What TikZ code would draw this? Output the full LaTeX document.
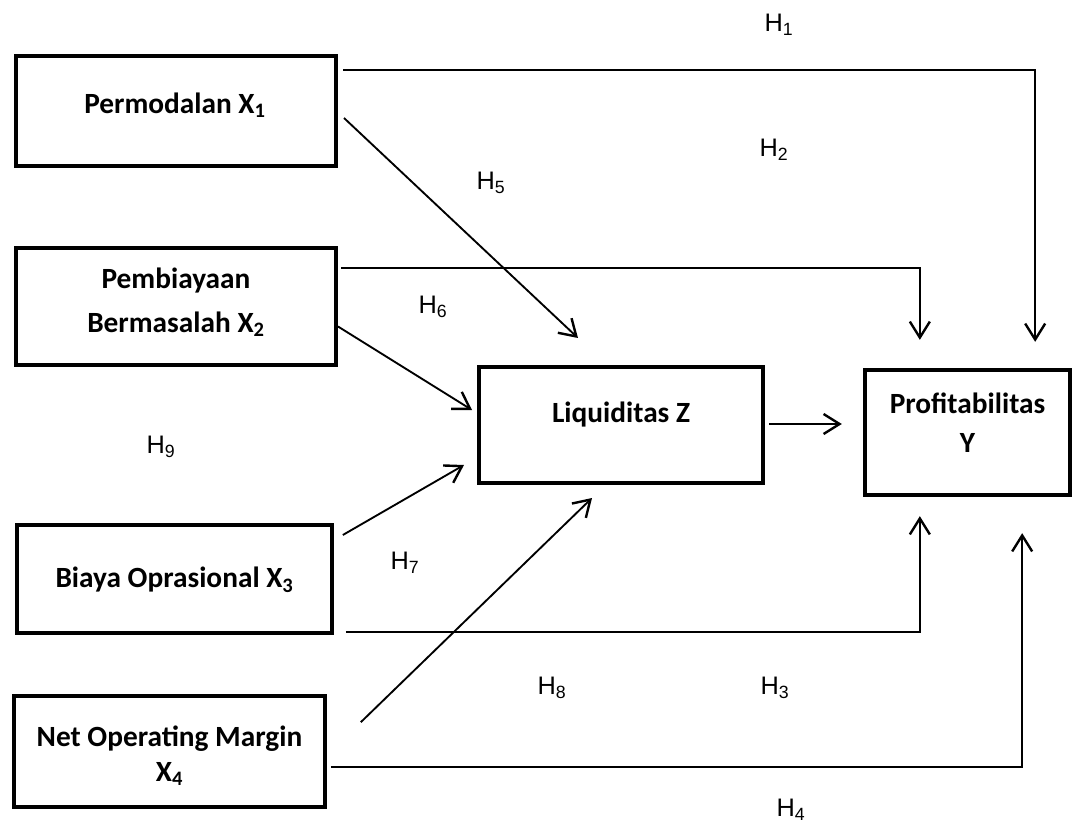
\documentclass[tikz,border=0pt]{standalone}
\usepackage{fontspec}
\setmainfont{Carlito}
\newfontfamily\hfont{Liberation Sans}
\usetikzlibrary{arrows.meta,calc}
\begin{document}
\begin{tikzpicture}[x=0.75pt,y=-0.75pt,
  box/.style={draw,line width=3pt,inner sep=0pt},
  btext/.style={align=center,inner sep=0pt,
    font=\fontsize{22}{26}\selectfont\bfseries},
  conn/.style={line width=1.4pt,-{Straight Barb[length=12pt,width=15pt,line width=1.8pt]}},
  hyp/.style={font=\hfont\fontsize{19}{22}\selectfont,inner sep=0pt}]
\useasboundingbox (0,0) rectangle (1074,823);
% boxes
\node[box,minimum width=240pt,minimum height=83pt] (X1) at (176,111) {};
\node[box,minimum width=240pt,minimum height=88pt] (X2) at (176,306.5) {};
\node[box,minimum width=236pt,minimum height=81pt] (X3) at (174.5,579) {};
\node[box,minimum width=233pt,minimum height=83pt] (X4) at (169.5,751.5) {};
\node[box,minimum width=213pt,minimum height=87pt] (Z) at (621,425) {};
\node[box,minimum width=154pt,minimum height=94pt] (Y) at (967.5,432.5) {};
% box texts
\node[btext] (tX1) at ($(X1.center)+(-1,-6)$) {Permodalan X\textsubscript{1}};
\node[btext] (tX2) at ($(X2.center)+(0,-4)$) {Pembiayaan\\[7pt]Bermasalah X\textsubscript{2}};
\node[btext] (tX3) at ($(X3.center)+(0,1)$) {Biaya Oprasional X\textsubscript{3}};
\node[btext] (tX4) at ($(X4.center)+(0,4)$) {Net Operating Margin\\X\textsubscript{4}};
\node[btext] (tZ) at ($(Z.center)+(0,-10)$) {Liquiditas Z};
\node[btext] (tY) at ($(Y.center)+(0,-10)$) {Profitabilitas\\[3pt]Y};
% connectors
\draw[conn] ($(X1.north east)+(5,16)$) -| ($(Y.north east)+(-37,-26)$);
\draw[conn] ($(X2.north east)+(3,22)$) -| ($(Y.north west)+(57,-28)$);
\draw[conn] ($(Z.east)+(4,-1)$) -- ($(Y.west)+(-21,-8.5)$);
\draw[conn] ($(X3.south east)+(12,-3)$) -| ($(Y.south west)+(57,19)$);
\draw[conn] ($(X4.east)+(4,15.5)$) -| ($(Y.south east)+(-50,36)$);
\draw[conn] ($(X1.east)+(6,7)$) -- ($(Z.north west)+(101,-27)$);
\draw[conn] ($(X2.east)+(0,20)$) -- ($(Z.west)+(-5,-15)$);
\draw[conn] ($(X3.north east)+(9,12)$) -- ($(Z.south west)+(-13,-20)$);
\draw[conn] ($(X4.north east)+(34,28)$) -- ($(Z.south west)+(115,13)$);
% hypothesis labels
\node[hyp] (H1) at (779,25) {H\textsubscript{1}};
\node[hyp] (H2) at (774,150) {H\textsubscript{2}};
\node[hyp] (H5) at (491,183) {H\textsubscript{5}};
\node[hyp] (H6) at (433,307) {H\textsubscript{6}};
\node[hyp] (H9) at (161,447) {H\textsubscript{9}};
\node[hyp] (H7) at (405,563) {H\textsubscript{7}};
\node[hyp] (H8) at (552,688) {H\textsubscript{8}};
\node[hyp] (H3) at (775,688) {H\textsubscript{3}};
\node[hyp] (H4) at (791,810) {H\textsubscript{4}};
\end{tikzpicture}
\end{document}
